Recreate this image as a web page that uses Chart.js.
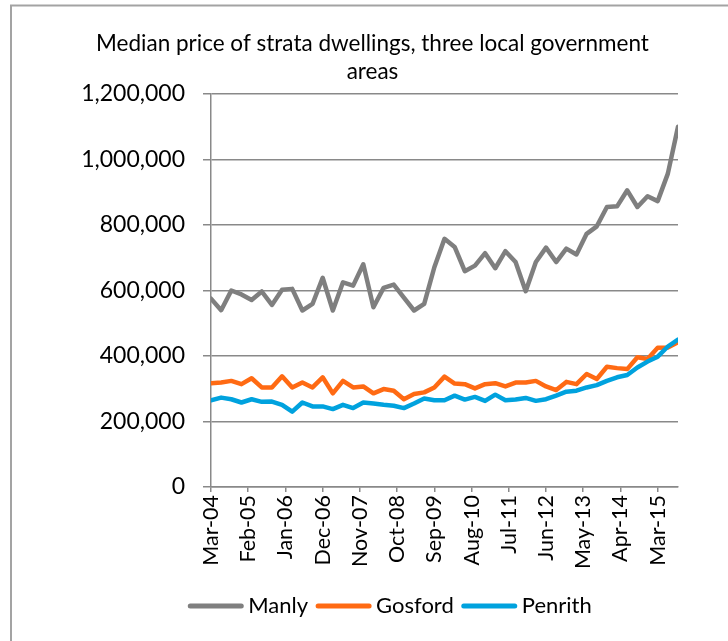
<!DOCTYPE html>
<html><head><meta charset="utf-8">
<script src="https://cdn.jsdelivr.net/npm/chart.js@4"></script>
<style>html,body{margin:0;padding:0;background:#fff}#wrap{width:728px;height:641px}</style>
</head><body><div id="wrap"><canvas id="c" width="728" height="641"></canvas></div>
<script>
const titleLines = ['Median price of strata dwellings, three local government', 'areas'];
const seriesNames = ['Manly', 'Gosford', 'Penrith'];
// quarterly medians, Mar-04 .. Sep-15
const manly = [575000, 540000, 600000, 588000, 571000, 597000, 556000, 602000, 605000, 539000,
  559000, 639000, 539000, 625000, 615000, 680000, 549000, 608000, 618000, 578000,
  539000, 559000, 671000, 758000, 733000, 659000, 676000, 714000, 668000, 720000,
  687000, 598000, 687000, 731000, 687000, 728000, 710000, 773000, 796000, 855000,
  857000, 906000, 855000, 888000, 873000, 957000, 1100000];
const gosford = [317000, 319000, 324000, 314000, 332000, 304000, 304000, 338000, 304000, 319000,
  304000, 335000, 286000, 324000, 304000, 307000, 286000, 299000, 294000, 268000,
  284000, 289000, 304000, 337000, 316000, 314000, 301000, 314000, 317000, 307000,
  319000, 319000, 324000, 307000, 296000, 321000, 314000, 345000, 330000, 367000,
  363000, 360000, 396000, 391000, 425000, 426000, 442000];
const penrith = [265000, 273000, 268000, 258000, 268000, 260000, 261000, 251000, 230000, 258000,
  246000, 246000, 238000, 251000, 241000, 258000, 255000, 251000, 248000, 241000,
  255000, 270000, 265000, 265000, 279000, 267000, 275000, 263000, 282000, 265000,
  267000, 272000, 263000, 268000, 279000, 291000, 294000, 304000, 311000, 324000,
  335000, 342000, 365000, 383000, 398000, 429000, 450000];
const tickLabels = ['Mar-04', 'Feb-05', 'Jan-06', 'Dec-06', 'Nov-07', 'Oct-08', 'Sep-09',
  'Aug-10', 'Jul-11', 'Jun-12', 'May-13', 'Apr-14', 'Mar-15'];
const monthsPerPoint = 3;
const monthsPerTick = 11;
const yMax = 1200000, yStep = 200000;

const colors = ['#7F7F7F', '#FF6A13', '#00A2DE'];
const gridColor = '#898989';
const FONT = 'Lato, "Open Sans", sans-serif';
const lastMonth = (manly.length - 1) * monthsPerPoint;
const toPts = arr => arr.map((v, i) => ({x: i * monthsPerPoint, y: v}));

const borderPlugin = {
  id: 'outerBorder',
  beforeDraw(chart) {
    const ctx = chart.ctx;
    ctx.save();
    ctx.strokeStyle = '#a3a3a3';
    ctx.lineWidth = 2;
    ctx.strokeRect(11, 5.5, 900, 900);
    ctx.restore();
  }
};

// legend drawn from the datasets: line sample 55px, gap 5, label, gap 8
const legendPlugin = {
  id: 'lineLegend',
  afterDraw(chart) {
    const ctx = chart.ctx;
    const sets = chart.data.datasets;
    ctx.save();
    ctx.font = '22px ' + FONT;
    const lineLen = 55, gap = 5, itemGap = 8;
    const widths = sets.map(d => ctx.measureText(d.label).width);
    let total = 0;
    widths.forEach((w, i) => { total += lineLen + gap + w + (i < widths.length - 1 ? itemGap : 0); });
    let x = 390 - total / 2;
    const y = 606;
    sets.forEach((d, i) => {
      ctx.strokeStyle = d.borderColor;
      ctx.lineWidth = 5;
      ctx.lineCap = 'round';
      ctx.beginPath();
      ctx.moveTo(x + 2, y);
      ctx.lineTo(x + lineLen - 2, y);
      ctx.stroke();
      ctx.fillStyle = '#000';
      ctx.textBaseline = 'middle';
      ctx.textAlign = 'left';
      ctx.fillText(d.label, x + lineLen + gap, y);
      x += lineLen + gap + widths[i] + itemGap;
    });
    ctx.restore();
  }
};

new Chart(document.getElementById('c'), {
  type: 'line',
  data: {
    datasets: [manly, gosford, penrith].map((arr, k) => ({
      label: seriesNames[k],
      data: toPts(arr),
      borderColor: colors[k],
      backgroundColor: colors[k],
      borderWidth: 4.5,
      pointRadius: 0,
      tension: 0,
      borderJoinStyle: 'round',
      borderCapStyle: 'round',
      order: 3 - k
    }))
  },
  options: {
    responsive: false,
    animation: false,
    layout: {padding: {left: 67, right: 50, top: 30, bottom: 54}},
    plugins: {
      tooltip: {enabled: false},
      legend: {display: false},
      title: {
        display: true,
        text: titleLines,
        color: '#000',
        font: {family: FONT, size: 22.5, weight: 'normal', lineHeight: 1.245},
        padding: {top: 0, bottom: 8}
      }
    },
    scales: {
      x: {
        type: 'linear',
        min: 0,
        max: lastMonth,
        bounds: 'data',
        afterBuildTicks: s => { s.ticks = tickLabels.map((_, i) => ({value: i * monthsPerTick})); },
        afterFit: s => { s.height = 100; s.paddingLeft = 0; s.paddingRight = 0; },
        grid: {drawOnChartArea: false, drawTicks: true, tickLength: 5, color: gridColor, lineWidth: 1.5},
        border: {display: true, color: gridColor, width: 1.5},
        ticks: {
          autoSkip: false,
          minRotation: 90,
          maxRotation: 90,
          padding: 3,
          color: '#000',
          font: {family: FONT, size: 21.5},
          callback: (v, i) => tickLabels[i]
        }
      },
      y: {
        min: 0,
        max: yMax,
        afterFit: s => { s.width = 144; },
        grid: {color: gridColor, lineWidth: 1.5, tickLength: 8},
        border: {display: true, color: gridColor, width: 1.5},
        ticks: {
          stepSize: yStep,
          padding: 18,
          color: '#000',
          font: {family: FONT, size: 23},
          callback: v => v.toLocaleString('en-US')
        }
      }
    }
  },
  plugins: [borderPlugin, legendPlugin]
});
</script>
</body></html>
